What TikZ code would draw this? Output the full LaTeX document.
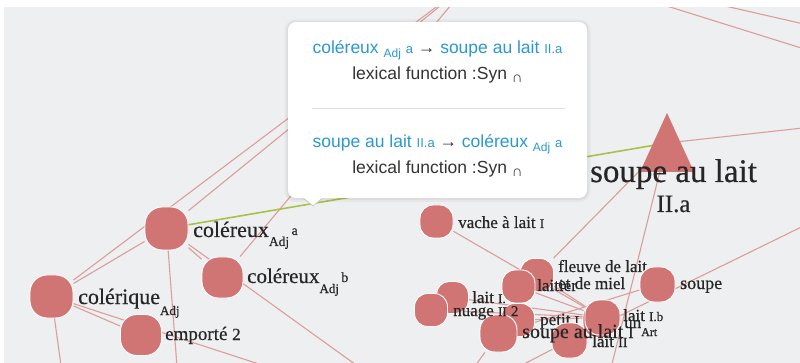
\documentclass[tikz,border=0pt]{standalone}
\usepackage{fontspec}
\setmainfont{Liberation Serif}[BoldFont={Liberation Serif}, BoldFeatures={FakeBold=0.5}]
\newfontfamily\popfont{Liberation Sans}
\usetikzlibrary{calc}
\pgfdeclarelayer{back}
\pgfdeclarelayer{edges}
\pgfsetlayers{back,edges,main}
\newcommand{\psize}[1]{\fontsize{#1}{#1}\selectfont}

\definecolor{bgcol}{RGB}{238,239,240}
\definecolor{nodecol}{RGB}{208,116,116}
\definecolor{edgecol}{RGB}{219,158,158}
\definecolor{greencol}{RGB}{166,194,72}
\definecolor{bluecol}{RGB}{42,152,212}
\definecolor{labcol}{RGB}{38,38,38}
\definecolor{popgray}{RGB}{51,51,51}
\definecolor{sepcol}{RGB}{222,222,222}

\begin{document}
\begin{tikzpicture}[x=1pt,y=-1pt,
  vtx/.style={rectangle, fill=nodecol, draw=white, line width=0.9pt,
    minimum size=#1pt, rounded corners=0.4*#1pt, inner sep=0pt},
  lab/.style={anchor=base west, inner sep=0pt, text=labcol,
    execute at begin node=\bfseries},
  edge/.style={draw=edgecol, line width=1.1pt},
  greenedge/.style={draw=greencol, line width=1.6pt},
  popup/.style={fill=white, rounded corners=8pt, minimum width=299pt,
    minimum height=176pt, inner sep=0pt},
  poptext/.style={anchor=base, inner sep=0pt, font=\popfont\psize{17.5}},
  ptr/.style={draw=black!22, line width=0.7pt}]

\useasboundingbox (0,0) rectangle (800,363);
\begin{pgfonlayer}{back}
  \fill[bgcol] (0,0) rectangle (800,363);
\end{pgfonlayer}

% nodes lying outside the visible area
\coordinate (top) at (472,-20);
\coordinate (offD) at (63,380);
\coordinate (offE) at (178,380);
\coordinate (offF) at (308,380);
\coordinate (offG) at (377,380);
\coordinate (offH) at (465,380);
\coordinate (offBL) at (493,380);
\coordinate (offI) at (608,380);
\coordinate (offR) at (830,213);
\coordinate (offR1) at (830,125);
\coordinate (t1a) at (606,-13);
\coordinate (t1b) at (830,57);
\coordinate (t2a) at (642,-13);
\coordinate (t2b) at (830,30);

% left group
\node[vtx=43] (colerique) at (51.5,296.5) {};
\node[lab,font=\psize{22}] (colerique-l) at (78,304) {colérique\raisebox{-11pt}{\psize{13}Adj}};
\node[vtx=41] (emporte) at (141,335) {};
\node[lab,font=\psize{19}] (emporte-l) at (165,340) {emporté {\psize{17}2}};
\node[vtx=43] (colerA) at (166.5,228.5) {};
\node[lab,font=\psize{22}] (colerA-l) at (193,237) {coléreux\raisebox{-9pt}{\psize{13.5}Adj}\raisebox{2pt}{\psize{14}\,a}};
\node[vtx=41] (colerB) at (222.5,277.5) {};
\node[lab,font=\psize{21}] (colerB-l) at (247,283) {coléreux\raisebox{-10pt}{\psize{13}Adj}\raisebox{1pt}{\psize{14}\,b}};

% right group
\node[vtx=33] (vache) at (436.5,221.5) {};
\node[lab,font=\psize{17}] (vache-l) at (458,228) {vache à lait {\psize{13}I}};
\node[vtx=33] (fleuve) at (537,275) {};
\node[lab,font=\psize{17}] (fleuve-l) at (558,272) {fleuve de lait};
\node[lab,font=\psize{17}] (fleuve-l2) at (558,289) {et de miel};
\node[vtx=33] (laitier) at (518.5,286.5) {};
\node[lab,font=\psize{17}] (laitier-l) at (537,291) {laitier};
\node[vtx=32] (laitIa) at (452.5,297.5) {};
\node[lab,font=\psize{17}] (laitIa-l) at (472,303) {lait {\psize{13}I.}};
\node[vtx=33] (nuage) at (431,310) {};
\node[vtx=33] (petit) at (518,320) {};
\node[lab,font=\psize{17}] (petit-l) at (540,325) {petit {\psize{13}I}};
\node[vtx=37] (soupeI) at (498.5,333.5) {};
\node[lab,font=\psize{17}] (nuage-l) at (453,316) {nuage {\psize{13}II} {\psize{15}2}};
\node[vtx=35] (laitII) at (569.5,340.5) {};
\node[vtx=35] (un) at (600.5,320) {};
\node[vtx=35] (laitIb) at (602.5,317.5) {};
\node[lab,font=\psize{17}] (laitII-l) at (592,347) {lait {\psize{14}II}};
\node[lab,font=\psize{20}] (soupeI-l) at (522,338) {soupe au lait {\psize{16}I}};
\node[lab,font=\psize{17}] (un-l) at (624,328) {un\raisebox{-8pt}{\psize{12}Art}};
\node[lab,font=\psize{17}] (laitIb-l) at (623,321) {lait {\psize{13}I.b}};
\node[vtx=35] (soupe) at (657.5,284.5) {};
\node[lab,font=\psize{18}] (soupe-l) at (680,289) {soupe};

% triangle node
\fill[nodecol] (667,113) -- (694,172) -- (640,172) -- cycle;
\coordinate (tri) at (667,143);
\node[lab,anchor=base,font=\psize{33}] (tri-l) at (673.5,182) {soupe au lait};
\node[lab,anchor=base,font=\psize{25}] (tri-l2) at (673.5,212) {II.a};

% connectors
\begin{pgfonlayer}{edges}
  \draw[edge] (t1a) -- (t1b);
  \draw[edge] (t2a) -- (t2b);
  \draw[edge] (colerique) -- (top);
  \draw[edge] (colerA) -- (top);
  \draw[edge] (colerB) -- (top);
  \draw[edge] (colerique) -- (colerA);
  \draw[edge] (colerique) -- (emporte);
  \draw[edge] (colerique) -- (offF);
  \draw[edge] (colerique) -- (offD);
  \draw[edge] (colerA) -- (colerB);
  \draw[edge] (colerA) -- (offG);
  \draw[edge] (colerA) -- (offE);
  \draw[edge] (tri) -- (offR1);
  \draw[edge] (tri) -- (fleuve);
  \draw[edge] (tri) -- (offI);
  \draw[edge] (vache) -- (laitIb);
  \draw[edge] (laitIa) -- (laitIb);
  \draw[edge] (nuage) -- (laitIb);
  \draw[edge] (laitier) -- (laitIb);
  \draw[edge] (fleuve) -- (laitIb);
  \draw[edge] (petit) -- (laitIb);
  \draw[edge] (soupeI) -- (soupe);
  \draw[edge] (soupeI) -- (offH);
  \draw[edge] (offBL) -- (laitII.center) -- (offR);
  \draw[greenedge] (colerA) -- (tri);
\end{pgfonlayer}

% tooltip
\fill[black,opacity=0.035,rounded corners=11pt] (284.5,19.5) rectangle (590.5,202);
\fill[black,opacity=0.04,rounded corners=9pt] (286.5,21) rectangle (588.5,200);
\node[popup] (tip) at (437.5,110) {};
\fill[white] (303,197) -- (313,206) -- (323,197) -- cycle;
\draw[ptr] (303.5,198.3) -- (313,206) -- (322.5,198.3);
\draw[sepcol,line width=0.8pt] (312,108) -- (565,108);
\node[poptext,text=bluecol] (tip1) at (437.5,54)
  {coléreux \raisebox{-4pt}{\psize{12}Adj} {\psize{13}a} \textcolor{popgray}{→} soupe au lait {\psize{13}II.a}};
\node[poptext,text=popgray] (tip2) at (437.5,80)
  {lexical function :Syn \raisebox{-3pt}{\psize{15}∩}};
\node[poptext,text=bluecol] (tip3) at (437.5,148)
  {soupe au lait {\psize{13}II.a} \textcolor{popgray}{→} coléreux \raisebox{-4pt}{\psize{12}Adj} {\psize{13}a}};
\node[poptext,text=popgray] (tip4) at (437.5,174)
  {lexical function :Syn \raisebox{-3pt}{\psize{15}∩}};

% page margins
\fill[white] (0,0) rectangle (800,7);
\fill[white] (0,0) rectangle (3.5,363);
\end{tikzpicture}
\end{document}
